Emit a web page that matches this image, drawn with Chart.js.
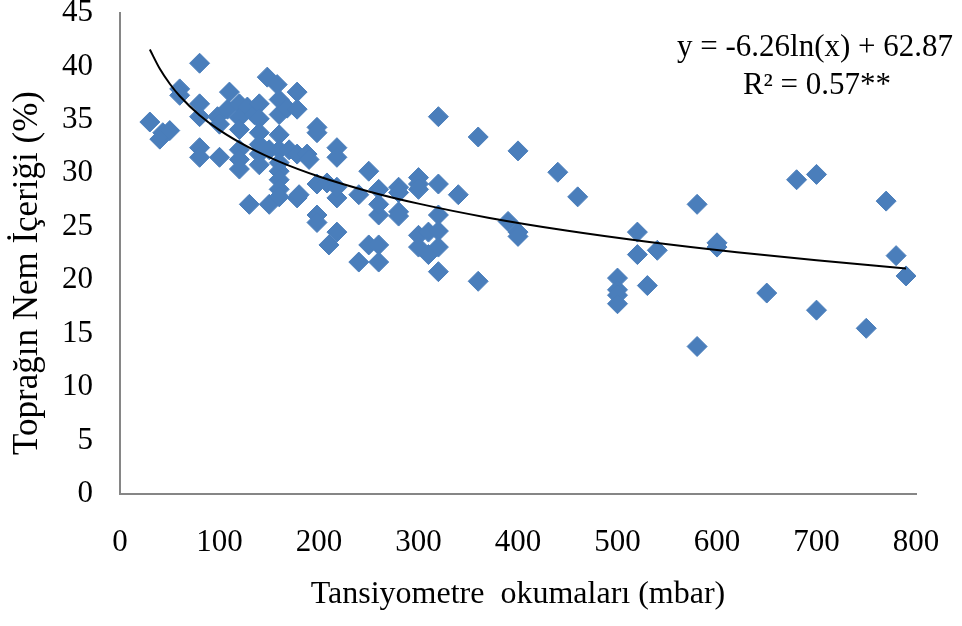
<!DOCTYPE html>
<html>
<head>
<meta charset="utf-8">
<script src="https://cdn.jsdelivr.net/npm/chart.js@4.4.1/dist/chart.umd.min.js"></script>
<style>
  html, body { margin: 0; padding: 0; background: #fff; }
  #wrap { width: 962px; height: 626px; }
</style>
</head>
<body>
<div id="wrap"><canvas id="scatterChart" width="962" height="626"></canvas></div>
<script>
// tensiometer readings (mbar) and soil moisture (%)
var xValues = [30, 40, 43, 50, 60, 60, 80, 80, 80, 80, 80, 100, 98, 100, 108, 110,
    120, 120, 120, 120, 120, 120, 130, 128, 135, 140, 140, 140, 140, 140, 140,
    148, 150, 150, 158, 160, 160, 160, 160, 160, 160, 160, 160, 160, 168, 170,
    178, 178, 178, 178, 180, 188, 190, 198, 198, 198, 198, 198, 208, 210, 218,
    218, 218, 218, 218, 240, 240, 250, 250, 260, 260, 260, 260, 260, 280, 280,
    280, 280, 300, 300, 300, 300, 300, 310, 310, 320, 320, 320, 320, 320, 320,
    340, 360, 360, 390, 400, 400, 400, 440, 460, 500, 500, 500, 500, 520, 520,
    530, 540, 580, 580, 600, 600, 650, 680, 700, 700, 750, 770, 780, 790];
var yValues = [34.8, 33.2, 33.8, 34.0, 37.9, 37.3, 40.3, 36.5, 35.3, 32.4, 31.5, 31.5, 35.3, 34.6, 36.0, 37.6,
    36.5, 35.2, 34.1, 32.2, 31.3, 30.4, 27.1, 36.2, 35.5, 36.5, 35.1, 33.8, 32.7, 31.8, 30.8,
    39.0, 27.1, 32.2, 38.3, 36.9, 35.5, 33.6, 32.2, 31.0, 30.2, 29.4, 28.5, 27.8, 36.1, 32.2,
    37.6, 36.0, 31.8, 27.7, 28.0, 31.8, 31.3, 34.3, 33.8, 29.0, 26.1, 25.4, 29.1, 23.3, 32.4,
    31.5, 27.7, 24.5, 28.7, 28.0, 21.7, 30.2, 23.3, 23.3, 21.7, 26.1, 27.1, 28.5, 28.7, 28.2,
    26.4, 26.0, 29.6, 29.0, 28.5, 24.2, 23.1, 24.5, 22.4, 35.3, 29.0, 26.1, 24.6, 23.1, 20.8,
    28.0, 33.4, 19.9, 25.5, 32.1, 24.5, 24.1, 30.1, 27.8, 20.2, 19.1, 18.6, 17.8, 24.5, 22.4,
    19.5, 22.8, 27.1, 13.8, 23.5, 23.1, 18.8, 29.4, 29.9, 17.2, 15.5, 27.4, 22.3, 20.4];

// logarithmic trendline y = a*ln(x) + b, shown in the chart
var trendA = -6.26;
var trendB = 62.87;
var trendX = [30, 40, 50, 60, 80, 100, 130, 160, 200, 250, 300, 370, 450, 530, 620, 700, 790];

var xTicks = [0, 100, 200, 300, 400, 500, 600, 700, 800];
var yTicks = [0, 5, 10, 15, 20, 25, 30, 35, 40, 45];

var yTitle = 'Toprağın Nem İçeriği (%)';
var xTitle = 'Tansiyometre  okumaları (mbar)';
var equationLines = ['y = -6.26ln(x) + 62.87', 'R\u00b2 = 0.57**'];

var points = xValues.map(function (x, i) {
    return { x: x, y: yValues[i] };
});
var trendPoints = trendX.map(function (x) {
    return { x: x, y: trendA * Math.log(x) + trendB };
});

var serif = '"Liberation Serif", "Times New Roman", serif';

// equation box and the rotated y title
var textPlugin = {
    id: 'extraText',
    afterDraw: function (chart) {
        var ctx = chart.ctx;
        ctx.save();
        ctx.fillStyle = '#000';
        ctx.font = '31px ' + serif;
        ctx.textAlign = 'center';
        ctx.textBaseline = 'alphabetic';
        ctx.fillText(equationLines[0], 815, 56);
        ctx.fillText(equationLines[1], 817, 94);

        ctx.font = '35px ' + serif;
        ctx.translate(37, 273);
        ctx.rotate(-Math.PI / 2);
        ctx.fillText(yTitle, 0, 0);
        ctx.restore();
    }
};

function noScalePadding(scale) {
    scale.paddingTop = 0;
    scale.paddingBottom = 0;
    scale.paddingLeft = 0;
    scale.paddingRight = 0;
}

var ctx = document.getElementById('scatterChart').getContext('2d');
new Chart(ctx, {
    type: 'scatter',
    data: {
        datasets: [
            {
                data: points,
                pointStyle: 'rectRot',
                pointRadius: 10,
                backgroundColor: '#4a7ebb',
                borderColor: '#4a7ebb',
                borderWidth: 1,
                order: 2
            },
            {
                type: 'line',
                data: trendPoints,
                borderColor: '#000',
                borderWidth: 2,
                pointRadius: 0,
                cubicInterpolationMode: 'monotone',
                fill: false,
                order: 1
            }
        ]
    },
    options: {
        responsive: false,
        animation: false,
        layout: {
            padding: { top: 13, right: 46, bottom: 0, left: 0 }
        },
        plugins: {
            legend: { display: false },
            tooltip: { enabled: false }
        },
        scales: {
            x: {
                type: 'linear',
                min: 0,
                max: 800,
                afterFit: function (scale) {
                    scale.height = 132;
                    noScalePadding(scale);
                },
                afterBuildTicks: function (scale) {
                    scale.ticks = xTicks.map(function (v) { return { value: v }; });
                },
                grid: { display: false, drawTicks: false },
                border: { display: true, color: '#868686', width: 2 },
                ticks: {
                    padding: 30,
                    maxRotation: 0,
                    color: '#000',
                    font: { family: serif, size: 31 }
                },
                title: {
                    display: true,
                    text: xTitle,
                    color: '#000',
                    font: { family: serif, size: 32 },
                    padding: { top: 0, bottom: 12 }
                }
            },
            y: {
                min: 0,
                max: 45,
                afterFit: function (scale) {
                    scale.width = 120;
                    noScalePadding(scale);
                },
                afterBuildTicks: function (scale) {
                    scale.ticks = yTicks.map(function (v) { return { value: v }; });
                },
                grid: { display: false, drawTicks: false },
                border: { display: true, color: '#868686', width: 2 },
                ticks: {
                    padding: 27,
                    color: '#000',
                    font: { family: serif, size: 31 }
                }
            }
        }
    },
    plugins: [textPlugin]
});
</script>
</body>
</html>
